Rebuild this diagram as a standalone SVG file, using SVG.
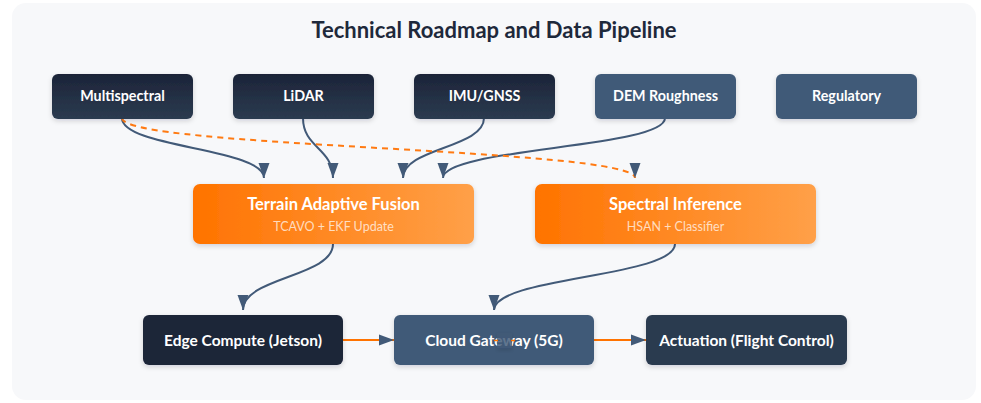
<svg xmlns="http://www.w3.org/2000/svg" width="981" height="403" viewBox="0 0 981 403">
  <defs>
    <linearGradient id="gDark" x1="0" y1="0" x2="0" y2="1">
      <stop offset="0" stop-color="#1c2438"/>
      <stop offset="1" stop-color="#2b3b50"/>
    </linearGradient>
    <linearGradient id="gOrange" x1="0" y1="0" x2="1" y2="0">
      <stop offset="0" stop-color="#ff7300"/>
      <stop offset="1" stop-color="#ffa048"/>
    </linearGradient>
    <filter id="shadow" x="-10%" y="-20%" width="120%" height="150%">
      <feDropShadow dx="0" dy="2" stdDeviation="2.5" flood-color="#0f172a" flood-opacity="0.16"/>
    </filter>
    <marker id="arrow" markerUnits="userSpaceOnUse" markerWidth="16" markerHeight="12" refX="15" refY="6" orient="auto">
      <path d="M0,0.5 L15,6 L0,11.5 z" fill="#425a78"/>
    </marker>
  </defs>
  <style>
    .title { font-family: Lato, "Liberation Sans", sans-serif; font-weight: 700; font-size: 22px; fill: #1e293b; text-anchor: middle; }
    .lbl { font-family: Lato, "Liberation Sans", sans-serif; font-weight: 700; fill: #ffffff; text-anchor: middle; }
    .top { font-size: 14.3px; }
    .mid { font-size: 16.5px; }
    .sub { font-family: Lato, "Liberation Sans", sans-serif; font-size: 12.5px; fill: #ffffff; fill-opacity: 0.72; text-anchor: middle; }
    .bot { font-size: 15.5px; }
    .node rect { filter: url(#shadow); }
    .flow { fill: none; stroke: #425a78; stroke-width: 2; marker-end: url(#arrow); }
    .dash { fill: none; stroke: #ff7a12; stroke-width: 2; stroke-dasharray: 6 5; marker-end: url(#arrow); }
    .link { fill: none; stroke: #ff7300; stroke-width: 2; marker-end: url(#arrow); }
  </style>

  <rect x="0" y="0" width="981" height="403" fill="#ffffff"/>
  <rect x="12" y="3" width="964" height="397" rx="14" fill="#f7f8fa"/>

  <text class="title" x="494" y="38">Technical Roadmap and Data Pipeline</text>

  <g id="connectors">
    <path class="flow" d="M122,118 C122,148 264,148 264,178"/>
    <path class="flow" d="M303,118 C303,148 333,148 333,178"/>
    <path class="flow" d="M484,118 C484,148 403,148 403,178"/>
    <path class="flow" d="M665,118 C665,148 443,148 443,178"/>
    <path class="dash" d="M122,118 C122,148 635,148 635,178"/>
    <path class="flow" d="M333,244 C333,277 243,277 243,310"/>
    <path class="flow" d="M675,244 C675,277 494,277 494,310"/>
    <path class="link" d="M343,340 L394,340"/>
    <path class="link" d="M594,340 L646,340"/>
  </g>

  <g id="multispectral" class="node">
    <rect x="52" y="74" width="141" height="45" rx="6" fill="url(#gDark)"/>
    <text class="lbl top" x="122.5" y="101">Multispectral</text>
  </g>
  <g id="lidar" class="node">
    <rect x="233" y="74" width="141" height="45" rx="6" fill="url(#gDark)"/>
    <text class="lbl top" x="303.5" y="101">LiDAR</text>
  </g>
  <g id="imu-gnss" class="node">
    <rect x="414" y="74" width="141" height="45" rx="6" fill="url(#gDark)"/>
    <text class="lbl top" x="484.5" y="101">IMU/GNSS</text>
  </g>
  <g id="dem-roughness" class="node">
    <rect x="595" y="74" width="141" height="45" rx="6" fill="#415a78"/>
    <text class="lbl top" x="665.5" y="101">DEM Roughness</text>
  </g>
  <g id="regulatory" class="node">
    <rect x="776" y="74" width="141" height="45" rx="6" fill="#415a78"/>
    <text class="lbl top" x="846.5" y="101">Regulatory</text>
  </g>

  <g id="terrain-fusion" class="node">
    <rect x="193" y="184" width="281" height="60" rx="7" fill="url(#gOrange)"/>
    <text class="lbl mid" x="333.5" y="209.5">Terrain Adaptive Fusion</text>
    <text class="sub" x="333.5" y="230.5">TCAVO + EKF Update</text>
  </g>
  <g id="spectral-inference" class="node">
    <rect x="535" y="184" width="281" height="60" rx="7" fill="url(#gOrange)"/>
    <text class="lbl mid" x="675.5" y="209.5">Spectral Inference</text>
    <text class="sub" x="675.5" y="230.5">HSAN + Classifier</text>
  </g>

  <g id="edge-compute" class="node">
    <rect x="143" y="315" width="200" height="50" rx="6" fill="#1c2539"/>
    <text class="lbl bot" x="243" y="345.5">Edge Compute (Jetson)</text>
  </g>
  <g id="cloud-gateway" class="node">
    <rect x="394" y="315" width="200" height="50" rx="6" fill="#415a78"/>
    <text class="lbl bot" x="494" y="345.5">Cloud Gateway (5G)</text>
    <!-- stray connector fragment crossing the label -->
    <rect x="497" y="333" width="15" height="15" fill="#415a78" fill-opacity="0.8"/>
    <path d="M494,340.5 L498,340.5 M511,340.5 L515,340.5" stroke="#ff7300" stroke-width="1.5"/>
  </g>
  <g id="actuation" class="node">
    <rect x="646" y="315" width="201" height="50" rx="6" fill="#2a3a4f"/>
    <text class="lbl bot" x="746.5" y="345.5">Actuation (Flight Control)</text>
  </g>
</svg>
